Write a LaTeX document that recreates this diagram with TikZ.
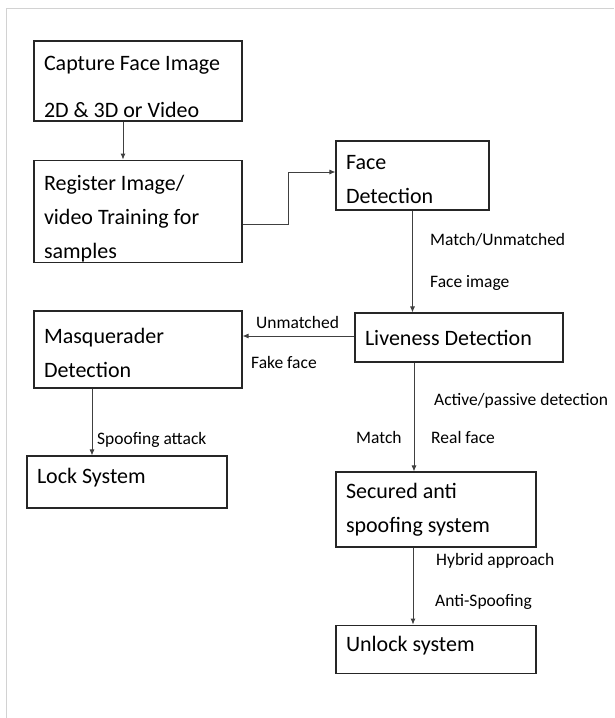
\documentclass[tikz,border=0pt]{standalone}
\usepackage{fontspec}
\setmainfont{Carlito}
\usetikzlibrary{arrows.meta,positioning}

\begin{document}
\begin{tikzpicture}[
    x=1pt, y=-1pt,
    box/.style={draw=black!85, line width=1.1pt, text width=#1, align=flush left, inner xsep=10pt, inner ysep=1pt, font=\fontsize{22}{34}\selectfont},
    firstline/.style={execute at begin node={\rule{0pt}{#1}}},
    lastdepth/.style={execute at end node={\rule[-#1]{0pt}{0pt}}},
    lbl/.style={inner sep=0pt, anchor=west, font=\fontsize{17.5}{21}\selectfont},
    arr/.style={-{Latex[length=6pt,width=5pt]}, line width=0.9pt, black!75},
    frame/.style={gray!35, line width=1pt}
]
\useasboundingbox (0,0) rectangle (614,718);
\draw[frame] (6,718) -- (6,8) -- (614,8);

\node[box=188pt, minimum height=80pt, firstline=26pt] (capture) at (138,81) {Capture Face Image\\[13pt]2D \& 3D or Video};
\node[box=188pt, minimum height=101pt, firstline=29pt, below=38pt of capture] (register) {Register Image/\\video Training for\\samples};
\node[box=133pt, minimum height=69pt, firstline=22pt] (face) at (412.5,175.5) {Face\\Detection};
\node[box=188pt, minimum height=49pt] (live) at (459,337.5) {Liveness Detection};
\node[box=188pt, minimum height=77pt, firstline=23pt] (masq) at (138,349.5) {Masquerader\\Detection};
\node[box=180pt, minimum height=52pt, lastdepth=11.5pt] (lock) at (127,482) {Lock System};
\node[box=180pt, minimum height=75pt] (secured) at (436,509.5) {Secured anti\\spoofing system};
\node[box=180pt, minimum height=48pt, lastdepth=9.5pt, below=77pt of secured] (unlock) {Unlock system};

\draw[arr] ([xshift=-15pt]capture.south) -- ([xshift=-15pt]register.north);
\draw[arr] ([yshift=-13.5pt]register.east) -- ++(46,0) |- ([yshift=3.5pt]face.west);
\draw[arr] (face.south) -- (face.south |- live.north);
\draw[arr] ([yshift=1.5pt]live.west) -- ([yshift=1.5pt]live.west -| masq.east);
\draw[arr] ([xshift=-46pt]masq.south) -- ([xshift=-46pt]masq.south |- lock.north);
\draw[arr] ([xshift=-45pt]live.south) -- ([xshift=-45pt]live.south |- secured.north);
\draw[arr] ([xshift=-23pt]secured.south) -- ([xshift=-23pt]unlock.north);

\node[lbl] (lmatchun) at (430,240) {Match/Unmatched};
\node[lbl] (lfaceimg) at (430,283) {Face image};
\node[lbl] (lunmatch) at (256,322) {Unmatched};
\node[lbl] (lfake) at (251,362) {Fake face};
\node[lbl] (lspoof) at (97,440) {Spoofing attack};
\node[lbl] (lactive) at (434,401) {Active/passive detection};
\node[lbl] (lmatch) at (356,437) {Match};
\node[lbl] (lreal) at (431,437) {Real face};
\node[lbl] (lhybrid) at (436,561) {Hybrid approach};
\node[lbl] (lanti) at (435,602) {Anti-Spoofing};
\end{tikzpicture}
\end{document}
